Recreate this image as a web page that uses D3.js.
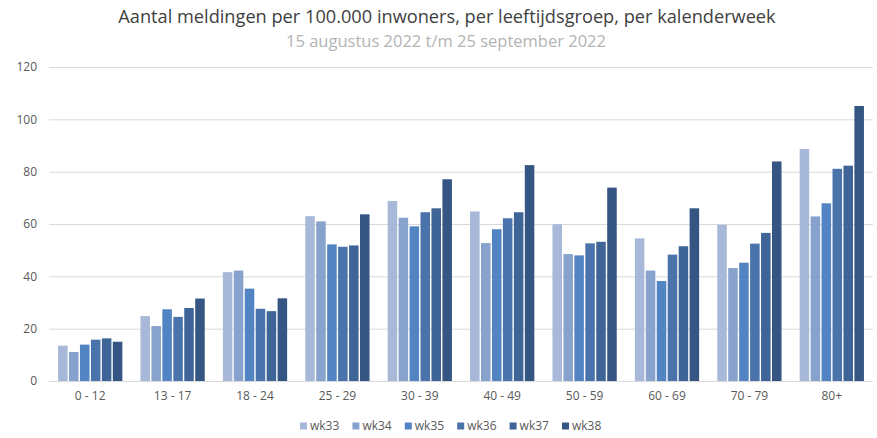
<!DOCTYPE html>
<html>
<head>
<meta charset="utf-8">
<script src="https://cdn.jsdelivr.net/npm/d3@7"></script>
<style>
  body { margin: 0; background: #fff; }
  svg { display: block; font-family: "Open Sans", "DejaVu Sans", sans-serif; }
</style>
</head>
<body>
<svg id="chart"></svg>
<script>
const groups = ["0 - 12", "13 - 17", "18 - 24", "25 - 29", "30 - 39", "40 - 49", "50 - 59", "60 - 69", "70 - 79", "80+"];
const weeks = ["wk33", "wk34", "wk35", "wk36", "wk37", "wk38"];
const wk33 = [13.5, 24.8, 41.6, 63.0, 68.8, 64.8, 59.9, 54.5, 59.7, 88.7];
const wk34 = [11.1, 21.0, 42.2, 61.0, 62.4, 52.7, 48.5, 42.2, 43.2, 62.9];
const wk35 = [13.9, 27.4, 35.3, 52.2, 59.1, 58.0, 48.0, 38.2, 45.2, 67.9];
const wk36 = [15.8, 24.5, 27.6, 51.3, 64.5, 62.2, 52.6, 48.3, 52.5, 81.1];
const wk37 = [16.3, 27.9, 26.7, 51.8, 66.0, 64.5, 53.2, 51.5, 56.6, 82.3];
const wk38 = [15.0, 31.5, 31.6, 63.7, 77.1, 82.5, 73.9, 66.0, 83.9, 105.1];
const yTicks = [0, 20, 40, 60, 80, 100, 120];
const colors = ["#a7b8d8", "#87a2cc", "#5283c2", "#4a73ab", "#3f6598", "#355582"];

const series = [wk33, wk34, wk35, wk36, wk37, wk38];

const width = 877, height = 438;
const margin = {top: 67, right: 4, bottom: 57, left: 49};

const svg = d3.select("#chart").attr("width", width).attr("height", height);

// titels
svg.append("text")
    .attr("x", 447).attr("y", 23)
    .attr("text-anchor", "middle")
    .attr("font-size", 18.2)
    .attr("fill", "#404040")
    .text("Aantal meldingen per 100.000 inwoners, per leeftijdsgroep, per kalenderweek");
svg.append("text")
    .attr("x", 446).attr("y", 47)
    .attr("text-anchor", "middle")
    .attr("font-size", 16.5)
    .attr("fill", "#b3b3b3")
    .text("15 augustus 2022 t/m 25 september 2022");

const x = d3.scaleBand()
    .domain(groups)
    .range([margin.left, width - margin.right])
    .paddingInner(0.22)
    .paddingOuter(0.11);

const xInner = d3.scaleBand()
    .domain(weeks)
    .range([0, x.bandwidth()])
    .paddingInner(0.13);

const y = d3.scaleLinear()
    .domain([0, 120])
    .range([381, margin.top]);

// rasterlijnen
svg.append("g")
    .selectAll("line")
    .data(yTicks)
    .join("line")
    .attr("x1", margin.left)
    .attr("x2", width - margin.right)
    .attr("y1", d => y(d) + 0.5)
    .attr("y2", d => y(d) + 0.5)
    .attr("stroke", "#d9d9d9")
    .attr("stroke-width", 1);

const axisY = d3.axisLeft(y).tickValues(yTicks).tickSize(0).tickPadding(0);
svg.append("g")
    .attr("transform", "translate(37,0)")
    .call(axisY)
    .call(g => g.select(".domain").remove())
    .selectAll("text")
    .attr("font-size", 12)
    .attr("font-family", "Open Sans, sans-serif")
    .attr("fill", "#595959");

const axisX = d3.axisBottom(x).tickSize(0).tickPadding(10);
svg.append("g")
    .attr("transform", "translate(0," + y(0) + ")")
    .call(axisX)
    .call(g => g.select(".domain").remove())
    .selectAll("text")
    .attr("font-size", 12)
    .attr("font-family", "Open Sans, sans-serif")
    .attr("fill", "#595959");

// balken
svg.append("g")
    .selectAll("g")
    .data(groups)
    .join("g")
    .attr("transform", d => "translate(" + x(d) + ",0)")
    .selectAll("rect")
    .data((d, i) => weeks.map((w, j) => ({week: w, value: series[j][i], idx: j})))
    .join("rect")
    .attr("x", d => xInner(d.week))
    .attr("y", d => y(d.value))
    .attr("width", xInner.bandwidth())
    .attr("height", d => y(0) - y(d.value))
    .attr("fill", d => colors[d.idx]);

// legenda
const legend = svg.append("g")
    .selectAll("g")
    .data(weeks)
    .join("g")
    .attr("transform", (d, i) => "translate(" + (300 + i * 52.4) + ",426)");
legend.append("rect")
    .attr("x", 0).attr("y", -3.5)
    .attr("width", 7).attr("height", 7)
    .attr("fill", (d, i) => colors[i]);
legend.append("text")
    .attr("x", 10).attr("y", 0)
    .attr("dy", "0.35em")
    .attr("font-size", 12)
    .attr("fill", "#595959")
    .text(d => d);
</script>
</body>
</html>
